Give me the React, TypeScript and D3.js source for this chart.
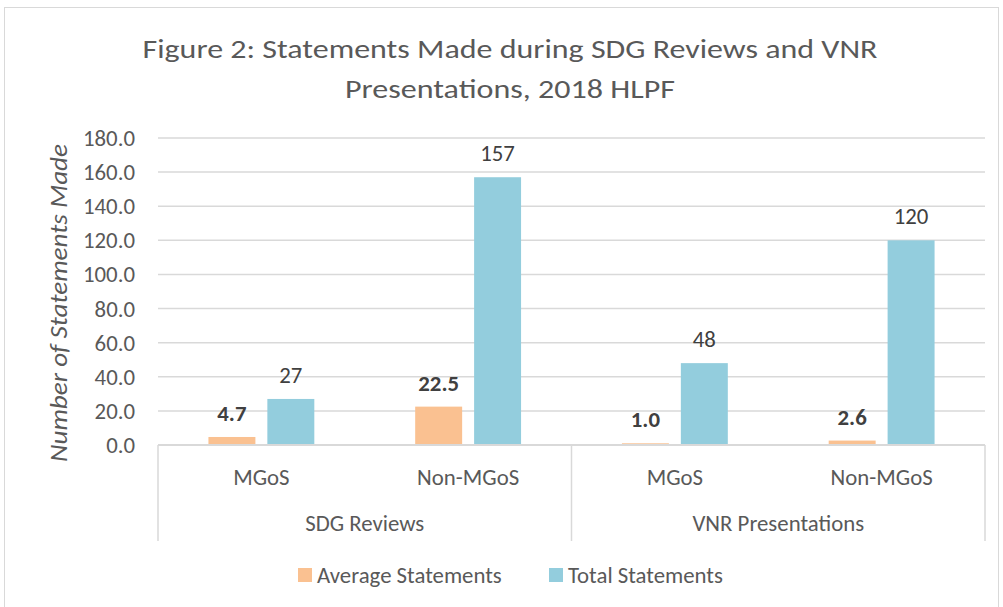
import React from "react";
import * as d3 from "d3";

const groups = ["SDG Reviews", "VNR Presentations"];
const categories = ["MGoS", "Non-MGoS", "MGoS", "Non-MGoS"];
const seriesNames = ["Average Statements", "Total Statements"];
const averageStatements = [4.7, 22.5, 1.0, 2.6];
const totalStatements = [27, 157, 48, 120];
const yTicks = [0, 20, 40, 60, 80, 100, 120, 140, 160, 180];

const colors = ["#FAC191", "#93CDDD"];
const FONT = "Carlito, Calibri, Lato, sans-serif";
const FS = 22.8;

function App() {
  const width = 1003,
    height = 607;
  const left = 158,
    right = 985,
    top = 138,
    bottom = 445;

  const keys = categories.map((c, i) => i + "");
  const x0 = d3.scaleBand().domain(keys).range([left, right]);
  const x1 = d3
    .scaleBand()
    .domain(seriesNames)
    .range([0, x0.bandwidth()])
    .paddingInner(0.203)
    .paddingOuter(0.856);
  const y = d3.scaleLinear().domain([0, 180]).range([bottom, top]);
  const fmt = d3.format(".1f");

  const series = [averageStatements, totalStatements];
  const groupSize = categories.length / groups.length;

  return (
    <svg
      width={width}
      height={height}
      style={{ position: "absolute", left: 0, top: 0, fontFamily: FONT }}
    >
      <rect x={0} y={0} width={width} height={height} fill="#fff" />
      <rect x={4.5} y={7.5} width={994} height={620} fill="none" stroke="#D9D9D9" />

      {/* title */}
      <text x={510} y={58} textAnchor="middle" fontSize={27.5} fill="#595959" textLength={735} lengthAdjust="spacingAndGlyphs">
        Figure 2: Statements Made during SDG Reviews and VNR
      </text>
      <text x={510} y={98} textAnchor="middle" fontSize={27.5} fill="#595959" textLength={330} lengthAdjust="spacingAndGlyphs">
        Presentations, 2018 HLPF
      </text>

      {/* y axis title */}
      <text
        transform={`translate(67,303) rotate(-90)`}
        textAnchor="middle"
        fontSize={25}
        fontStyle="italic"
        fill="#595959"
        textLength={318}
        lengthAdjust="spacingAndGlyphs"
      >
        Number of Statements Made
      </text>

      {/* grid + y ticks */}
      {yTicks.map((t) => (
        <g key={t}>
          <line x1={left} x2={right} y1={y(t)} y2={y(t)} stroke="#D9D9D9" strokeWidth={1.5} />
          <text x={135} y={y(t)} dy="0.35em" textAnchor="end" fontSize={FS} fill="#595959">
            {fmt(t)}
          </text>
        </g>
      ))}

      {/* bars */}
      {keys.map((k, i) => (
        <g key={k} transform={`translate(${x0(k)},0)`}>
          {series.map((s, j) => {
            const bx = x1(seriesNames[j])!;
            const bw = x1.bandwidth();
            return (
              <g key={j}>
                <rect x={bx} y={y(s[i])} width={bw} height={bottom - y(s[i])} fill={colors[j]} />
                <text
                  x={bx + bw / 2}
                  y={y(s[i]) - 24}
                  dy="0.35em"
                  textAnchor="middle"
                  fontSize={FS}
                  fontWeight={j === 0 ? "bold" : "normal"}
                  fill="#404040"
                >
                  {j === 0 ? s[i].toFixed(1) : s[i]}
                </text>
              </g>
            );
          })}
          <text
            x={x0.bandwidth() / 2}
            y={477}
            dy="0.35em"
            textAnchor="middle"
            fontSize={FS}
            fill="#595959"
          >
            {categories[i]}
          </text>
        </g>
      ))}

      {/* x axis */}
      <line x1={left} x2={right} y1={bottom} y2={bottom} stroke="#D9D9D9" strokeWidth={2} />
      {d3.range(groups.length + 1).map((g) => {
        const xx = g < groups.length ? x0(keys[g * groupSize])! : right;
        return <line key={g} x1={xx} x2={xx} y1={bottom} y2={541} stroke="#D9D9D9" strokeWidth={1.5} />;
      })}
      {groups.map((g, gi) => {
        const x0s = x0(keys[gi * groupSize])!;
        const x0e = x0(keys[gi * groupSize + groupSize - 1])! + x0.bandwidth();
        return (
          <text key={g} x={(x0s + x0e) / 2} y={523} dy="0.35em" textAnchor="middle" fontSize={FS} fill="#595959">
            {g}
          </text>
        );
      })}

      {/* legend */}
      {seriesNames.map((n, i) => {
        const lx = [298, 549][i];
        return (
          <g key={n}>
            <rect x={lx} y={568} width={14} height={14} fill={colors[i]} />
            <text x={lx + 19} y={575} dy="0.35em" fontSize={FS} fill="#595959">
              {n}
            </text>
          </g>
        );
      })}
    </svg>
  );
}

export default App;
